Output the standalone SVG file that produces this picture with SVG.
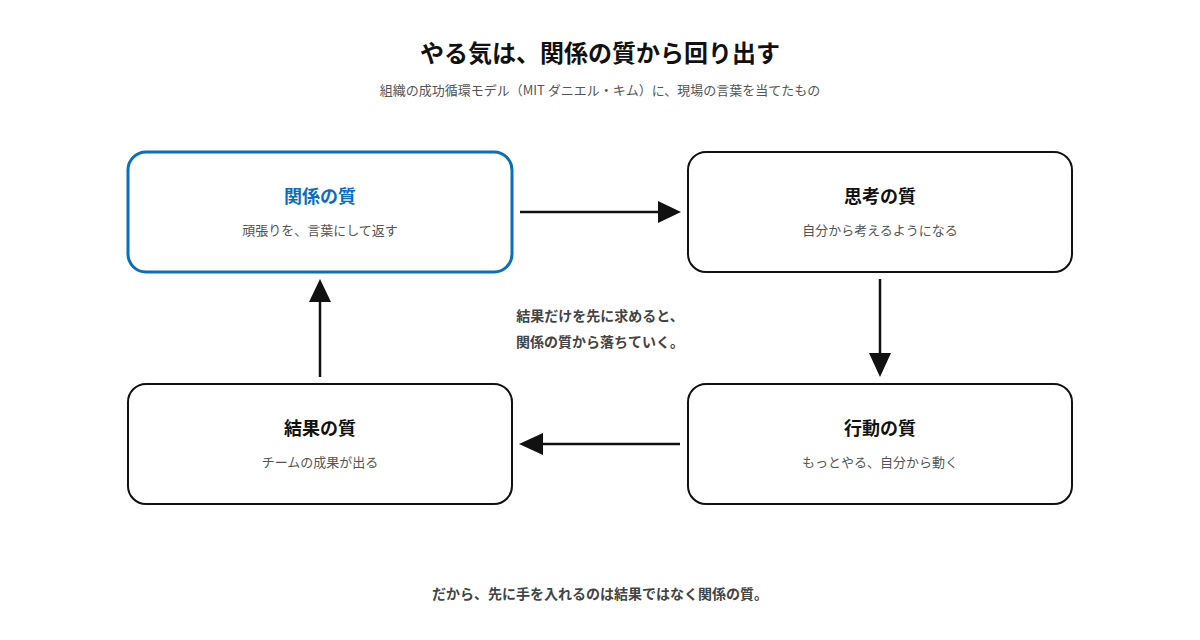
<svg xmlns="http://www.w3.org/2000/svg" width="1200" height="640" viewBox="0 0 1200 640">
<style>
text{font-family:"Noto Sans CJK JP","Noto Sans",sans-serif;text-anchor:middle}
.box{fill:#fff;stroke:#111;stroke-width:2}
.hl{stroke:#0a6ebd;stroke-width:3}
.t{font-size:18px;font-weight:700;fill:#111}
.s{font-size:13px;fill:#555}
.c{font-size:14px;font-weight:700;fill:#444}
.ln{stroke:#111;stroke-width:2.5;fill:none;marker-end:url(#ah)}
</style>
<defs><marker id="ah" viewBox="0 0 10 10" refX="10" refY="5" markerWidth="9" markerHeight="9" markerUnits="userSpaceOnUse" orient="auto"><path d="M0,0L10,5L0,10z" fill="#111"/></marker>
<marker id="ah2" viewBox="0 0 10 10" refX="10" refY="5" markerWidth="9" markerHeight="9" orient="auto"><path d="M0,0L10,5L0,10z" fill="#111"/></marker></defs>
<rect width="1200" height="640" fill="#fff"/>
<text x="600" y="62" style="font-size:24px;font-weight:700;fill:#111">やる気は、関係の質から回り出す</text>
<text x="600" y="95" class="s">組織の成功循環モデル（MIT ダニエル・キム）に、現場の言葉を当てたもの</text>
<g id="n1"><rect class="box hl" x="128" y="152" width="384" height="120" rx="18"/><text x="320" y="203" class="t" style="fill:#0a6ebd">関係の質</text><text x="320" y="235" class="s">頑張りを、言葉にして返す</text></g>
<g id="n2"><rect class="box" x="688" y="152" width="384" height="120" rx="18"/><text x="880" y="203" class="t">思考の質</text><text x="880" y="235" class="s">自分から考えるようになる</text></g>
<g id="n3"><rect class="box" x="688" y="384" width="384" height="120" rx="18"/><text x="880" y="435" class="t">行動の質</text><text x="880" y="467" class="s">もっとやる、自分から動く</text></g>
<g id="n4"><rect class="box" x="128" y="384" width="384" height="120" rx="18"/><text x="320" y="435" class="t">結果の質</text><text x="320" y="467" class="s">チームの成果が出る</text></g>
<g id="connectors">
<path d="M520 212H660" stroke="#111" stroke-width="2.5"/><path d="M658 201L681 212L658 223z" fill="#111"/>
<path d="M880 279V355" stroke="#111" stroke-width="2.5"/><path d="M869 353L880 377L891 353z" fill="#111"/>
<path d="M680 444H540" stroke="#111" stroke-width="2.5"/><path d="M543 433L519 444L543 455z" fill="#111"/>
<path d="M320 377V300" stroke="#111" stroke-width="2.5"/><path d="M309 302L320 279L331 302z" fill="#111"/>
</g>
<text x="600" y="321" class="c">結果だけを先に求めると、</text>
<text x="600" y="347" class="c">関係の質から落ちていく。</text>
<text x="600" y="599" class="c">だから、先に手を入れるのは結果ではなく関係の質。</text>
</svg>
